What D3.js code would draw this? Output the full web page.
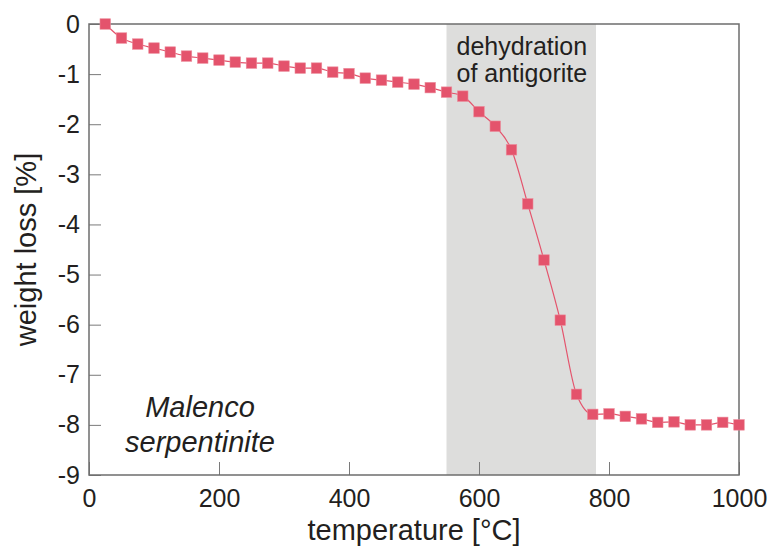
<!DOCTYPE html>
<html>
<head>
<meta charset="utf-8">
<script src="https://cdn.jsdelivr.net/npm/d3@7"></script>
<style>
  body { margin: 0; background: #fff; }
  svg { font-family: "Liberation Sans", Arial, sans-serif; }
</style>
</head>
<body>
<svg id="chart" width="774" height="549"></svg>
<script>
// temperature [°C] and weight loss [%]
const temps = [25, 50, 75, 100, 125, 150, 175, 200, 225, 250,
  275, 300, 325, 350, 375, 400, 425, 450, 475, 500,
  525, 550, 575, 600, 625, 650, 675, 700, 725, 750,
  775, 800, 825, 850, 875, 900, 925, 950, 975, 1000];
const loss = [0.0, -0.28, -0.40, -0.48, -0.56, -0.64, -0.68, -0.72, -0.76, -0.78,
  -0.78, -0.84, -0.88, -0.88, -0.96, -0.99, -1.08, -1.12, -1.16, -1.20,
  -1.27, -1.36, -1.44, -1.75, -2.04, -2.51, -3.59, -4.71, -5.91, -7.39,
  -7.79, -7.78, -7.83, -7.88, -7.95, -7.94, -8.0, -8.0, -7.95, -8.0];
const xTicks = [0, 200, 400, 600, 800, 1000];
const yTicks = [0, -1, -2, -3, -4, -5, -6, -7, -8, -9];
const band = [550, 780];
const bandLabel = ['dehydration', 'of antigorite'];
const sampleLabel = ['Malenco', 'serpentinite'];

const red = '#e4536c';
const axisGrey = '#6d6d6d';
const textColor = '#231f20';

let svg = d3.select('#chart');
let x = d3.scaleLinear().domain([0, 1000]).range([89, 739]);
let y = d3.scaleLinear().domain([0, -9]).range([24, 475]);

let data = temps.map((t, i) => ({t, w: loss[i]}));

// shaded dehydration range
svg.append('rect')
  .attr('x', x(band[0]))
  .attr('y', y(0))
  .attr('width', x(band[1]) - x(band[0]))
  .attr('height', y(-9) - y(0))
  .attr('fill', '#dddddc');

svg.append('text')
  .attr('x', x(band[0]) + 10)
  .attr('y', 55)
  .attr('font-size', 25)
  .attr('fill', textColor)
  .selectAll('tspan')
  .data(bandLabel)
  .join('tspan')
  .attr('x', x(band[0]) + 10)
  .attr('dy', (d, i) => i ? 27 : 0)
  .text(d => d);

// axes with inward ticks
let xAxis = svg.append('g')
  .attr('transform', `translate(0,${y(-9)})`)
  .call(d3.axisBottom(x).tickValues(xTicks).tickSize(-13).tickPadding(14).tickFormat(d => String(d)));
let yAxis = svg.append('g')
  .attr('transform', `translate(${x(0)},0)`)
  .call(d3.axisLeft(y).tickValues(yTicks).tickSize(-12).tickPadding(9).tickFormat(d => String(d)));

[xAxis, yAxis].forEach(g => {
  g.select('.domain').remove();
  g.selectAll('.tick line').attr('stroke', '#7a7a7a').attr('stroke-width', 1);
  g.selectAll('.tick text')
    .attr('font-size', 25)
    .attr('fill', textColor)
    .attr('font-family', '"Liberation Sans", Arial, sans-serif');
});

// plot frame
svg.append('rect')
  .attr('x', x(0))
  .attr('y', y(0))
  .attr('width', x(1000) - x(0))
  .attr('height', y(-9) - y(0))
  .attr('fill', 'none')
  .attr('stroke', axisGrey)
  .attr('stroke-width', 1.5);

// curve and markers
let line = d3.line()
  .x(d => x(d.t))
  .y(d => y(d.w))
  .curve(d3.curveMonotoneX);

svg.append('path')
  .datum(data)
  .attr('d', line)
  .attr('fill', 'none')
  .attr('stroke', red)
  .attr('stroke-width', 1.2);

let size = 10.5;
svg.selectAll('.pt')
  .data(data)
  .join('rect')
  .attr('class', 'pt')
  .attr('x', d => x(d.t) - size / 2)
  .attr('y', d => y(d.w) - size / 2)
  .attr('width', size)
  .attr('height', size)
  .attr('fill', red)
  .attr('stroke', '#ec8a9a')
  .attr('stroke-width', 0.6);

// sample label
svg.append('text')
  .attr('font-size', 29)
  .attr('font-style', 'italic')
  .attr('text-anchor', 'middle')
  .attr('fill', textColor)
  .selectAll('tspan')
  .data(sampleLabel)
  .join('tspan')
  .attr('x', 200)
  .attr('y', (d, i) => 417 + i * 35)
  .text(d => d);

// axis titles
svg.append('text')
  .attr('x', (x(0) + x(1000)) / 2)
  .attr('y', 540)
  .attr('text-anchor', 'middle')
  .attr('font-size', 29)
  .attr('fill', textColor)
  .text('temperature [°C]');

svg.append('text')
  .attr('transform', `translate(36,${(y(0) + y(-9)) / 2}) rotate(-90)`)
  .attr('text-anchor', 'middle')
  .attr('font-size', 29)
  .attr('fill', textColor)
  .text('weight loss [%]');
</script>
</body>
</html>
